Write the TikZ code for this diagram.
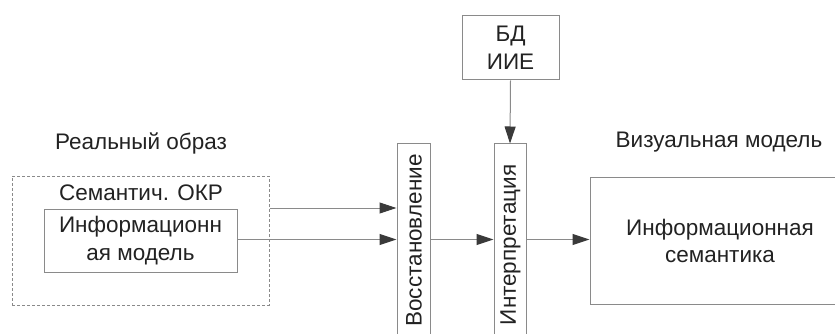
\documentclass[tikz,border=0pt]{standalone}
\usepackage{fontspec}
\setmainfont{Liberation Sans}
\usetikzlibrary{arrows.meta}
\definecolor{linegray}{HTML}{8A8A8A}
\definecolor{txt}{HTML}{222222}
\definecolor{headgray}{HTML}{3A3A3A}
\begin{document}
\begin{tikzpicture}[x=1pt,y=1pt,
  font=\fontsize{22.5}{27}\selectfont, text=txt,
  box/.style={draw=linegray, line width=1pt, inner sep=0pt, fill=white},
  lbl/.style={inner sep=0pt, align=center, text=txt},
  conn/.style={draw=linegray, line width=1pt},
  arr/.style={conn, -{Triangle[length=17pt,width=11pt,fill=headgray,color=headgray]}}]
\useasboundingbox (0,0) rectangle (835,-334);
% dashed outer box
\node[box, draw=linegray, dash pattern=on 3pt off 2pt, minimum width=257pt, minimum height=129pt] (outer) at (140.5,-240.5) {};
\node[lbl] (semlbl) at (141,-193) {Семантич. ОКР};
\node[box, minimum width=193pt, minimum height=63pt] (inner) at (140.5,-240.5) {};
\node[lbl, font=\fontsize{22.5}{27.5}\selectfont] (innerlbl) at (140.5,-240.5) {Информационн\\ая модель};
\node[lbl] (real) at (141,-143) {Реальный образ};
% DB box
\node[box, minimum width=97pt, minimum height=64pt] (bd) at (510.5,-48) {};
\node[lbl, font=\fontsize{22.5}{27.5}\selectfont] (bdlbl) at (510.5,-48) {БД\\ИИЕ};
% vertical boxes
\node[box, minimum width=33pt, minimum height=210pt] (vos) at (413.5,-249) {};
\node[lbl, rotate=90] (voslbl) at (414,-240.5) {Восстановление};
\node[box, minimum width=32pt, minimum height=210pt] (int) at (510,-249) {};
\node[lbl, rotate=90] (intlbl) at (510.5,-245) {Интерпретация};
% right box
\node[box, minimum width=260pt, minimum height=127pt] (vis) at (720,-240.5) {};
\node[lbl, font=\fontsize{22.5}{27.5}\selectfont] (vislbl) at (720,-241) {Информационная\\семантика};
\node[lbl] (vistitle) at (719,-142) {Визуальная модель};
% connectors
\coordinate (ya) at (0,-208);
\coordinate (yb) at (0,-239.5);
\draw[arr] (outer.east |- ya) -- (vos.west |- ya);
\draw[arr] (inner.east |- yb) -- (vos.west |- yb);
\draw[arr] (vos.east |- yb) -- (int.west |- yb);
\draw[arr] (int.east |- yb) -- (vis.west |- yb);
\draw[arr] (bd.south) -- (int.north);
\end{tikzpicture}
\end{document}
